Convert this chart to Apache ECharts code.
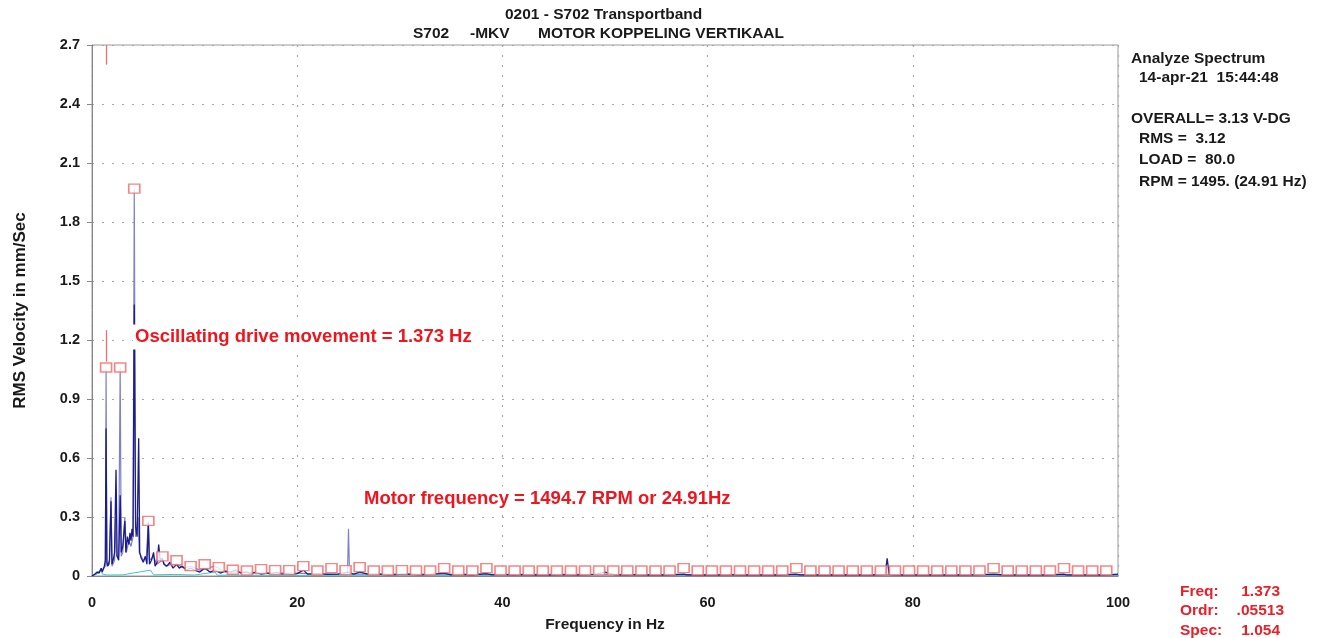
<!DOCTYPE html>
<html>
<head>
<meta charset="utf-8">
<script src="https://cdn.jsdelivr.net/npm/echarts@6/dist/echarts.min.js"></script>
<style>html,body{margin:0;padding:0;background:#fff}#c{width:1319px;height:638px}</style>
</head>
<body>
<div id="c"></div>
<script>
// ---- data ----
const xTicks = [0, 20, 40, 60, 80, 100];
const yTicks = [0, 0.3, 0.6, 0.9, 1.2, 1.5, 1.8, 2.1, 2.4, 2.7];

// light (thin) spectrum trace [Hz, mm/s]
const lightSpec = [
  [0,0],[0.6,0.02],[1.0,0.03],[1.3,0.05],[1.373,1.054],[1.45,0.05],[1.7,0.06],[1.85,0.40],[1.95,0.05],
  [2.2,0.08],[2.3,0.30],[2.4,0.10],[2.6,0.10],[2.746,1.06],[2.85,0.10],[3.0,0.12],[3.2,0.30],[3.35,0.12],
  [3.6,0.18],[3.8,0.15],[4.0,0.20],[4.119,1.97],[4.25,0.20],[4.5,0.30],[4.6,0.12],[5.0,0.08],[5.3,0.10],
  [5.492,0.28],[5.6,0.08],[6.0,0.10],[6.3,0.06],[6.865,0.08],[7.2,0.05],[7.7,0.06],[8.238,0.06],[9.0,0.04],
  [9.611,0.05],[10.5,0.03],[11.2,0.04],[12.0,0.05],[13.0,0.02],[15.0,0.02],[17.0,0.015],[20.0,0.015],
  [22.0,0.01],[24.9,0.01],[25.0,0.24],[25.1,0.01],[30,0.01],[40,0.008],[50,0.008],[60,0.006],[70,0.006],
  [80,0.006],[90,0.005],[100,0.005]
];

// dark (dense) spectrum trace [Hz, mm/s]
const darkSpec = [
  [0,0],[0.3,0.01],[0.5,0.02],[0.7,0.015],[0.9,0.04],[1.0,0.02],[1.2,0.05],[1.3,0.08],[1.37,0.75],[1.45,0.07],
  [1.55,0.05],[1.7,0.08],[1.85,0.38],[1.95,0.06],[2.1,0.09],[2.2,0.12],[2.34,0.54],[2.45,0.10],[2.6,0.08],
  [2.75,0.41],[2.85,0.12],[3.0,0.15],[3.2,0.28],[3.3,0.12],[3.45,0.20],[3.6,0.16],[3.7,0.22],[3.8,0.18],
  [3.9,0.24],[4.0,0.20],[4.12,1.38],[4.25,0.25],[4.4,0.20],[4.55,0.70],[4.65,0.12],[4.8,0.09],[5.0,0.07],
  [5.2,0.10],[5.35,0.06],[5.49,0.27],[5.6,0.06],[5.8,0.08],[6.0,0.12],[6.15,0.05],[6.35,0.07],[6.5,0.16],
  [6.65,0.08],[6.86,0.09],[7.0,0.06],[7.3,0.05],[7.6,0.07],[7.9,0.04],[8.24,0.06],[8.5,0.04],[8.8,0.05],
  [9.2,0.03],[9.61,0.04],[10.0,0.03],[10.5,0.02],[11.0,0.04],[11.5,0.02],[12.0,0.03],[12.5,0.015],
  [13.0,0.025],[13.5,0.02],[14.0,0.03],[14.5,0.015],[15.0,0.02],[15.5,0.012],[16.0,0.02],[16.5,0.01],
  [17.0,0.015],[17.5,0.012],[18.0,0.018],[18.5,0.01],[19.0,0.012],[19.5,0.008],[20.0,0.012],[20.6,0.03],
  [21,0.01],[22,0.012],[23,0.008],[24,0.01],[24.9,0.02],[25.5,0.01],[26.1,0.02],[27,0.008],[28,0.01],
  [29,0.006],[30,0.008],[31,0.01],[32,0.006],[33,0.008],[34.3,0.015],[35,0.006],[36,0.008],[37,0.005],
  [38.4,0.012],[39,0.006],[40,0.008],[41,0.005],[42,0.007],[43,0.005],[44,0.006],[45,0.005],[46,0.007],
  [47,0.005],[48,0.006],[49,0.008],[50,0.02],[51,0.006],[52,0.005],[53,0.007],[54,0.005],[55,0.006],
  [56,0.005],[57.7,0.01],[58,0.006],[59,0.005],[60,0.006],[61,0.005],[62,0.007],[63,0.005],[64,0.006],
  [65,0.005],[66,0.006],[67,0.005],[68.6,0.01],[69,0.006],[70,0.005],[71,0.006],[72,0.005],[73,0.006],
  [74,0.005],[75,0.006],[76,0.005],[77.3,0.008],[77.5,0.09],[77.7,0.008],[78,0.006],[79,0.005],[80,0.006],
  [81,0.005],[82,0.006],[83,0.005],[84,0.006],[85,0.005],[86,0.006],[87.9,0.01],[88,0.006],[89,0.005],
  [90,0.006],[91,0.005],[92,0.006],[93,0.005],[94.7,0.01],[95,0.006],[96,0.005],[97,0.006],[98,0.005],
  [99,0.006],[100,0.01]
];

// cyan reference trace near baseline [Hz, mm/s]
const cyanSpec = [
  [0,0],[0.5,0.01],[0.9,0.04],[1.0,0.01],[1.5,0.005],[3,0.006],[5.7,0.03],[6,0.006],[8,0.008],[10,0.005],
  [12,0.02],[12.2,0.004],[15,0.004],[20,0.003],[25,0.004],[30,0.003],[40,0.003],[50,0.004],[60,0.003],
  [70,0.003],[80,0.003],[90,0.003],[100,0.003]
];

// harmonic order markers: cursor frequency and marked peak value per order 1..72
const cursorFreq = 1.373;
const harmonicValues = [
  1.06,1.06,1.97,0.28,0.10,0.08,0.05,0.06,0.045,0.032,
  0.028,0.035,0.03,0.03,0.05,0.028,0.04,0.03,0.045,0.028,
  0.028,0.03,0.028,0.028,0.04,0.028,0.028,0.04,0.028,0.028,
  0.028,0.028,0.028,0.028,0.028,0.028,0.028,0.028,0.028,0.028,
  0.028,0.04,0.028,0.028,0.028,0.028,0.028,0.028,0.028,0.04,
  0.028,0.028,0.028,0.028,0.028,0.028,0.028,0.028,0.028,0.028,
  0.028,0.028,0.028,0.04,0.028,0.028,0.028,0.028,0.04,0.028,
  0.028,0.028
];
const cursorSegments = [[2.7, 2.6], [1.09, 1.25]];

// ---- chart ----
const FONT = '"Liberation Sans", Arial, sans-serif';
const harmonicPts = harmonicValues.map((v, i) => [(i + 1) * cursorFreq, v]);

const chart = echarts.init(document.getElementById('c'), null, {renderer: 'canvas'});
const txt = (x, y, s, opt = {}) => ({
  type: 'text', x: x, y: y + 2, z: 100,
  style: Object.assign({text: s, font: 'bold 15.5px ' + FONT, fill: '#1a1a1a', align: 'left', verticalAlign: 'middle'}, opt)
});
const RED = '#e8202a';

chart.setOption({
  animation: false,
  backgroundColor: '#fff',
  grid: {left: 92, right: 201, top: 45, bottom: 60, show: true, borderColor: '#9a9a9a', borderWidth: 1},
  xAxis: {
    type: 'value', min: 0, max: 100, interval: 20,
    name: 'Frequency in Hz', nameLocation: 'middle', nameGap: 41,
    nameTextStyle: {fontFamily: FONT, fontWeight: 'bold', fontSize: 15.5, color: '#1a1a1a'},
    axisLine: {show: true, lineStyle: {color: '#888'}},
    axisTick: {show: false},
    axisLabel: {fontFamily: FONT, fontWeight: 'bold', fontSize: 14.5, color: '#1a1a1a', margin: 19},
    splitLine: {show: true, lineStyle: {color: '#a8a8a8', type: [2, 8], width: 1.2}}
  },
  yAxis: {
    type: 'value', min: 0, max: 2.7, interval: 0.3,
    name: 'RMS Velocity in mm/Sec', nameLocation: 'middle', nameGap: 63,
    nameTextStyle: {fontFamily: FONT, fontWeight: 'bold', fontSize: 17, color: '#1a1a1a'},
    axisLine: {show: true, lineStyle: {color: '#888'}},
    axisTick: {show: true, length: 5, lineStyle: {color: '#888'}},
    axisLabel: {fontFamily: FONT, fontWeight: 'bold', fontSize: 14.5, color: '#1a1a1a', margin: 12,
      formatter: v => (v === 0 ? '0' : v.toFixed(1))},
    splitLine: {show: true, lineStyle: {color: '#a8a8a8', type: [2, 8], width: 1.2}}
  },
  series: [
    {type: 'line', data: cyanSpec, symbol: 'none', lineStyle: {color: '#3cc8c8', width: 1}, z: 2},
    {type: 'line', data: lightSpec, symbol: 'none', lineStyle: {color: '#8080cc', width: 1.2}, z: 3},
    {type: 'line', data: darkSpec, symbol: 'none', lineStyle: {color: '#1c1c8a', width: 1.3}, z: 4},
    {type: 'scatter', data: harmonicPts, symbol: 'rect', symbolSize: [11, 9],
     itemStyle: {color: '#ffffff', borderColor: '#f06868', borderWidth: 1.5}, z: 5},
    {type: 'line', data: [], symbol: 'none', z: 6,
     markLine: {silent: true, symbol: 'none', label: {show: false},
       lineStyle: {color: '#f07070', width: 1.3, type: 'solid'},
       data: cursorSegments.map(s => [{coord: [cursorFreq, s[0]]}, {coord: [cursorFreq, s[1]]}])}}
  ],
  graphic: [
    txt(505, 13, '0201 - S702 Transportband'),
    txt(413, 32, 'S702'),
    txt(470, 32, '-MKV'),
    txt(538, 32, 'MOTOR KOPPELING VERTIKAAL'),
    txt(1131, 57, 'Analyze Spectrum'),
    txt(1139, 76, '14-apr-21  15:44:48'),
    txt(1131, 117, 'OVERALL= 3.13 V-DG'),
    txt(1139, 137, 'RMS =  3.12'),
    txt(1139, 158, 'LOAD =  80.0'),
    txt(1139, 180, 'RPM = 1495. (24.91 Hz)'),
    txt(1180, 590, 'Freq:', {fill: RED}),
    txt(1180, 609, 'Ordr:', {fill: RED}),
    txt(1180, 629, 'Spec:', {fill: RED}),
    txt(1280, 590, '1.373', {fill: RED, align: 'right'}),
    txt(1284, 609, '.05513', {fill: RED, align: 'right'}),
    txt(1280, 629, '1.054', {fill: RED, align: 'right'}),
    txt(133, 335, 'Oscillating drive movement = 1.373 Hz',
      {font: 'bold 18.5px ' + FONT, fill: '#f0141e', backgroundColor: '#fff', padding: [3, 2]}),
    txt(362, 497, 'Motor frequency = 1494.7 RPM or 24.91Hz',
      {font: 'bold 18.5px ' + FONT, fill: '#f0141e', backgroundColor: '#fff', padding: [3, 2]})
  ]
});
</script>
</body>
</html>
